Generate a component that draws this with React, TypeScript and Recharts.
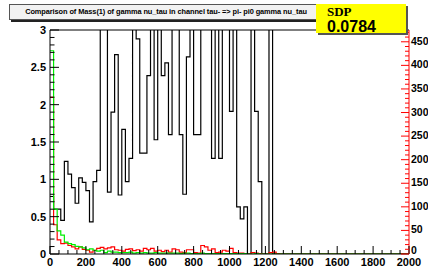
import { ComposedChart, Line, XAxis, YAxis, ReferenceLine } from 'recharts';

// histogram bins of 20 starting at 0
const binWidth = 20;

// black: ratio (left axis, clipped at 3)
const ratio = [
  0.77, 0.6, 0.6, 0.45, 1.24, 1.07, 0.89, 0.68, 1.02, 0.96,
  0.85, 0.43, 0.97, 1.12, 3.6, 3.3, 0.83, 1.9, 2.67, 0.79,
  1.67, 0.97, 1.28, 3.5, 2.88, 1.35, 1.35, 2.39, 4.1, 1.53,
  3.4, 2.39, 2.56, 1.6, 3.8, 3.2, 1.6, 0.8, 2.64, 4.5,
  1.6, 1.6, 5.2, 3.9, 3.3, 1.28, 3.6, 1.28, 4.0, 3.4,
  1.91, 3.7, 0.63, 0.47, 0.63, 0, 3.5, 1.91, 0.97, 0,
  0, 3.3, 0, 0, 0,
];

// red and green: entries per bin (right axis)
const red = [
  332, 62, 30, 22, 23, 18, 15, 11, 15, 10,
  8, 4, 8, 12, 14, 11, 13, 15, 9, 8,
  6, 10, 11, 7, 9, 6, 12, 9, 12, 6,
  8, 5, 8, 4, 11, 9, 4, 3, 9, 9,
  3, 2, 18, 15, 8, 11, 3, 4, 8, 6,
  12, 3, 2, 2, 1, 0, 3, 2, 1, 0,
  0, 3, 4, 1, 0,
];
const green = [
  431, 95, 49, 40, 25, 22, 20, 16, 15, 13,
  9, 11, 8, 6, 8, 3, 6, 4, 4, 3,
  3, 3, 4, 2, 3, 2, 3, 2, 2, 3,
  2, 2, 2, 2, 2, 2, 1, 2, 2, 1,
  1, 1, 2, 1, 1, 1, 1, 1, 1, 1,
  1, 1, 1, 1, 1, 0, 0, 1, 0, 0,
  0, 0, 0, 0, 0,
];

const xTicks = [
  0, 50, 100, 150, 200, 250, 300, 350, 400, 450, 500, 550, 600, 650, 700, 750,
  800, 850, 900, 950, 1000, 1050, 1100, 1150, 1200, 1250, 1300, 1350, 1400,
  1450, 1500, 1550, 1600, 1650, 1700, 1750, 1800, 1850, 1900, 1950, 2000,
];
const xLabels = [0, 200, 400, 600, 800, 1000, 1200, 1400, 1600, 1800, 2000];

const leftTicks = [
  0, 0.1, 0.2, 0.3, 0.4, 0.5, 0.6, 0.7, 0.8, 0.9, 1, 1.1, 1.2, 1.3, 1.4, 1.5,
  1.6, 1.7, 1.8, 1.9, 2, 2.1, 2.2, 2.3, 2.4, 2.5, 2.6, 2.7, 2.8, 2.9, 3,
];
const leftLabels = [0, 0.5, 1, 1.5, 2, 2.5, 3];

const rightTicks = [
  0, 10, 20, 30, 40, 50, 60, 70, 80, 90, 100, 110, 120, 130, 140, 150, 160, 170,
  180, 190, 200, 210, 220, 230, 240, 250, 260, 270, 280, 290, 300, 310, 320, 330,
  340, 350, 360, 370, 380, 390, 400, 410, 420, 430, 440, 450, 460, 470,
];
const rightLabels = [0, 50, 100, 150, 200, 250, 300, 350, 400, 450];

const title = 'Comparison of Mass(1) of gamma nu_tau in channel tau- => pi- pi0 gamma nu_tau';
const sdpLabel = 'SDP';
const sdpValue = '0.0784';

const data = ratio.map((r, i) => ({ x: i * binWidth, ratio: r, red: red[i], green: green[i] }));
data.push({ x: ratio.length * binWidth, ratio: 0, red: 0, green: 0 });
data.push({ x: 2000, ratio: 0, red: 0, green: 0 });

const font = '"Liberation Sans", Arial, sans-serif';

function LeftTick({ x, y, payload }: any) {
  const major = leftLabels.includes(payload.value);
  return (
    <g>
      <line x1={x} x2={x + (major ? 9 : 4.5)} y1={y} y2={y} stroke="#000" />
      {major && (
        <text x={x - 4} y={y + 4} textAnchor="end" fontFamily={font} fontWeight="bold" fontSize={11} fill="#000">
          {payload.value}
        </text>
      )}
    </g>
  );
}

function RightTick({ x, y, payload }: any) {
  const major = rightLabels.includes(payload.value);
  // the bottom label sits a little higher so it clears "2000"
  const dy = payload.value === 0 ? 0 : 3;
  return (
    <g>
      <line x1={x} x2={x - (major ? 8 : 4)} y1={y} y2={y} stroke="#ff0000" />
      {major && (
        <text x={x + 2} y={y + dy} textAnchor="start" fontFamily={font} fontWeight="bold" fontSize={10.5} fill="#000">
          {payload.value}
        </text>
      )}
    </g>
  );
}

function BottomTick({ x, y, payload }: any) {
  const major = xLabels.includes(payload.value);
  return (
    <g>
      <line x1={x} x2={x} y1={y} y2={y - (major ? 8 : 4)} stroke="#000" />
      {major && (
        <text x={x} y={y + 12} textAnchor="middle" fontFamily={font} fontWeight="bold" fontSize={11} fill="#000">
          {payload.value}
        </text>
      )}
    </g>
  );
}

export default function App() {
  return (
    <div style={{ position: 'absolute', left: 0, top: 0, width: 428, height: 270, background: '#fff' }}>
      <ComposedChart width={428} height={270} data={data} margin={{ top: 30, right: 0, bottom: 0, left: 0 }}>
        <XAxis
          dataKey="x"
          type="number"
          domain={[0, 2000]}
          ticks={xTicks}
          interval={0}
          height={16}
          tickSize={0}
          tickMargin={0}
          tickLine={false}
          axisLine={{ stroke: '#000' }}
          tick={<BottomTick />}
        />
        <YAxis
          yAxisId="left"
          domain={[0, 3]}
          allowDataOverflow
          ticks={leftTicks}
          interval={0}
          width={50}
          tickSize={0}
          tickMargin={0}
          tickLine={false}
          axisLine={{ stroke: '#000' }}
          tick={<LeftTick />}
        />
        <YAxis
          yAxisId="right"
          orientation="right"
          domain={[0, 475]}
          allowDataOverflow
          ticks={rightTicks}
          interval={0}
          width={19}
          tickSize={0}
          tickMargin={0}
          tickLine={false}
          axisLine={{ stroke: '#ff0000' }}
          tick={<RightTick />}
        />
        <ReferenceLine yAxisId="left" y={3} stroke="#000" />
        <Line yAxisId="left" type="stepAfter" dataKey="ratio" stroke="#000" strokeWidth={1.2} dot={false} isAnimationActive={false} />
        <Line yAxisId="right" type="stepAfter" dataKey="red" stroke="#ff0000" strokeWidth={1.2} dot={false} isAnimationActive={false} />
        <Line yAxisId="right" type="stepAfter" dataKey="green" stroke="#00ee00" strokeWidth={1.2} dot={false} isAnimationActive={false} />
      </ComposedChart>
      <div
        style={{
          position: 'absolute', left: 9, top: 4, width: 312, height: 14,
          background: '#f2f2f2', border: '1px solid #555', boxShadow: '2px 2px 0 #222',
          fontFamily: font, fontWeight: 'bold', fontSize: 7.4, letterSpacing: -0.08, lineHeight: '14px',
          textAlign: 'center', whiteSpace: 'nowrap', color: '#000',
        }}
      >
        {title}
      </div>
      <div
        style={{
          position: 'absolute', left: 316, top: 4, width: 90, height: 29,
          background: '#ffff00', boxShadow: '2px 2px 0 #555',
        }}
      >
        <div style={{ position: 'absolute', left: 11, top: 2, fontFamily: '"Liberation Serif", serif', fontWeight: 'bold', fontSize: 13, lineHeight: '12px', color: '#000' }}>
          {sdpLabel}
        </div>
        <div style={{ position: 'absolute', left: 11, top: 15, fontFamily: font, fontWeight: 'bold', fontSize: 16, lineHeight: '15px', color: '#000' }}>
          {sdpValue}
        </div>
      </div>
    </div>
  );
}
